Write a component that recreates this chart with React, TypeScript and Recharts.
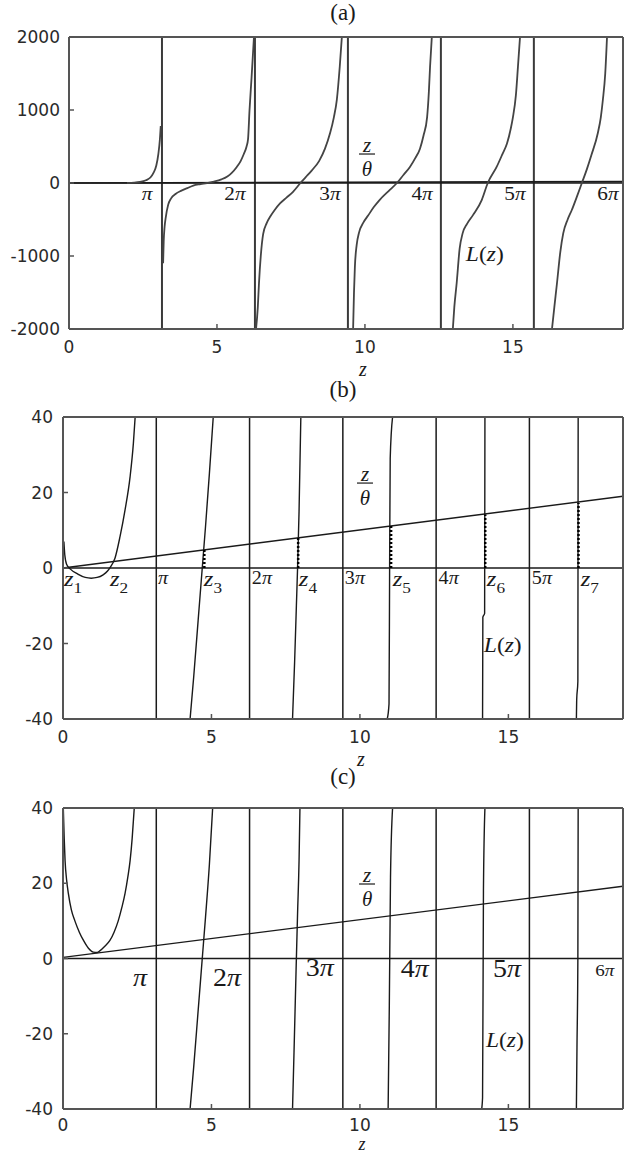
import React from 'react';
import { LineChart, Line, XAxis, YAxis, ReferenceLine, ReferenceDot } from 'recharts';

// ---------------- shared ----------------
const X_TICKS = [0, 5, 10, 15];
const ASYMPTOTES = [3.1416, 6.2832, 9.4248, 12.5664, 15.708];

// ---------------- panel (a) ----------------
const A_X_DOMAIN = [0, 18.72];
const A_Y_DOMAIN = [-2000, 2000];
const A_Y_TICKS = [-2000, -1000, 0, 1000, 2000];
const aRatioLine = [[0, 0], [18.72, 18.72]];
const aCurve1 = [[1.96, 0], [2.2, 4], [2.4, 14], [2.6, 38], [2.75, 75], [2.85, 135], [2.95, 240], [3.02, 400], [3.07, 590], [3.1, 780]];
const aCurve2 = [[3.18, -1100], [3.2, -800], [3.23, -600], [3.27, -470], [3.35, -300], [3.45, -210], [3.6, -150], [3.8, -105], [4.0, -70], [4.2, -35], [4.45, -15], [4.66, 0], [4.9, 20], [5.15, 50], [5.35, 90], [5.5, 140], [5.67, 220], [5.8, 300], [5.9, 390], [6.0, 500], [6.05, 600], [6.1, 1000], [6.17, 1450], [6.25, 2000]];
const aCurve3 = [[6.32, -2000], [6.38, -1700], [6.42, -1370], [6.48, -1000], [6.56, -700], [6.68, -550], [6.8, -460], [6.95, -370], [7.13, -280], [7.35, -200], [7.57, -120], [7.82, 0], [8.0, 80], [8.2, 170], [8.45, 300], [8.65, 470], [8.82, 680], [8.95, 900], [9.05, 1140], [9.15, 1600], [9.22, 2000]];
const aCurve4 = [[9.6, -2000], [9.63, -1500], [9.66, -1150], [9.72, -850], [9.8, -680], [9.95, -540], [10.1, -450], [10.3, -330], [10.5, -230], [10.8, -110], [11.08, 0], [11.3, 110], [11.52, 220], [11.7, 340], [11.86, 470], [11.98, 650], [12.1, 900], [12.16, 1250], [12.2, 1590], [12.26, 2000]];
const aCurve5 = [[12.97, -2000], [13.02, -1700], [13.1, -1370], [13.2, -900], [13.3, -690], [13.45, -560], [13.65, -440], [13.95, -230], [14.15, 0], [14.45, 220], [14.65, 400], [14.8, 540], [14.93, 750], [15.0, 900], [15.1, 1200], [15.17, 1590], [15.24, 2000]];
const aCurve6 = [[16.32, -2000], [16.4, -1700], [16.49, -1370], [16.6, -950], [16.7, -690], [16.85, -500], [16.99, -370], [17.15, -200], [17.33, 0], [17.5, 190], [17.65, 380], [17.87, 685], [17.97, 900], [18.04, 1140], [18.12, 1500], [18.18, 2000]];
const aPiLabels = [
  { x: 2.64, y: -150, lead: '' }, { x: 5.61, y: -150, lead: '2' }, { x: 8.82, y: -140, lead: '3' },
  { x: 11.93, y: -140, lead: '4' }, { x: 15.07, y: -140, lead: '5' }, { x: 18.21, y: -140, lead: '6' },
];
const aFrac = { x: 10.07, y: 397 };
const aLz = { x: 14.05, y: -973 };

// ---------------- panel (b) ----------------
const BC_X_DOMAIN = [0, 18.86];
const BC_Y_DOMAIN = [-40, 40];
const BC_Y_TICKS = [-40, -20, 0, 20, 40];
const bRatioLine = [[0, 0], [18.86, 19.0]];
const bCurve1 = [[0.03, 7], [0.06, 3.5], [0.12, 1], [0.25, -0.3], [0.5, -1.6], [0.75, -2.5], [0.95, -2.7], [1.15, -2.5], [1.35, -1.8], [1.5, -0.8], [1.6, 0.3], [1.75, 2.6], [1.92, 8.3], [2.09, 15.4], [2.26, 24.2], [2.37, 33], [2.43, 40]];
const bCurve2 = [[4.28, -40], [4.4, -29], [4.55, -14], [4.69, 0], [4.8, 11], [4.93, 25], [5.06, 40]];
const bCurve3 = [[7.73, -40], [7.8, -25], [7.86, -10], [7.9, 0], [7.95, 15], [8.01, 40]];
const bCurve4 = [[10.92, -40], [10.98, -36], [11.0, 0], [11.02, 29], [11.1, 40]];
const bCurve5 = [[14.13, -40], [14.14, -13], [14.2, -12], [14.21, 40]];
const bCurve6 = [[17.29, -40], [17.3, -35], [17.34, -30], [17.35, 40]];
const bRootX = [4.76, 7.92, 11.05, 14.22, 17.36];
const bRootTop = [4.9, 8.0, 11.2, 14.2, 17.2];
const bPiLabels = [
  { x: 3.37, y: -2.7, lead: '' }, { x: 6.7, y: -2.7, lead: '2' }, { x: 9.83, y: -2.7, lead: '3' },
  { x: 12.99, y: -2.7, lead: '4' }, { x: 16.13, y: -2.7, lead: '5' },
];
const bRootLabels = [
  { x: 0.34, y: -3.7, sub: '1' }, { x: 1.89, y: -3.7, sub: '2' }, { x: 5.05, y: -3.7, sub: '3' },
  { x: 8.25, y: -3.7, sub: '4' }, { x: 11.41, y: -3.7, sub: '5' }, { x: 14.58, y: -3.7, sub: '6' },
  { x: 17.74, y: -3.7, sub: '7' },
];
const bFrac = { x: 10.17, y: 22.5 };
const bLz = { x: 14.81, y: -20.4 };

// ---------------- panel (c) ----------------
const cRatioLine = [[0, 0.3], [18.86, 19.2]];
const cCurve1 = [[0.01, 40], [0.04, 32], [0.07, 26], [0.12, 21], [0.18, 17.3], [0.28, 13], [0.4, 10], [0.55, 7], [0.69, 4.8], [0.85, 2.8], [1.02, 1.7], [1.15, 1.6], [1.25, 2.1], [1.4, 3.2], [1.58, 4.8], [1.72, 7], [1.86, 10], [1.98, 13.5], [2.09, 17.3], [2.18, 21.5], [2.26, 26], [2.33, 32], [2.4, 40]];
const cCurve2 = [[4.28, -40], [4.4, -29], [4.55, -14], [4.69, 0], [4.8, 11], [4.93, 25], [5.04, 40]];
const cCurve3 = [[7.73, -40], [7.78, -25], [7.85, -3], [7.9, 12], [7.95, 26], [7.98, 40]];
const cCurve4 = [[10.95, -40], [10.99, -12.5], [11.03, 21.6], [11.1, 40]];
const cCurve5 = [[14.1, -40], [14.13, -37], [14.16, 18], [14.21, 40]];
const cCurve6 = [[17.29, -40], [17.31, -23.6], [17.34, 0], [17.35, 40]];
const cPiLabels = [
  { x: 2.59, y: -5.0, lead: '', size: 25 }, { x: 5.52, y: -5.0, lead: '2', size: 25 },
  { x: 8.65, y: -2.4, lead: '3', size: 25 }, { x: 11.85, y: -2.6, lead: '4', size: 25 },
  { x: 14.95, y: -2.6, lead: '5', size: 25 }, { x: 18.25, y: -3.2, lead: '6', size: 17 },
];
const cFrac = { x: 10.24, y: 19.8 };
const cLz = { x: 14.88, y: -21.8 };

// ---------------- styling ----------------
const SERIF = '"Liberation Serif", "Times New Roman", serif';
const SANS = '"DejaVu Sans", sans-serif';
const FRAME = { stroke: '#555', strokeWidth: 2 };
const TICKLINE = { stroke: '#555', strokeWidth: 1.5 };
const TICKFONT = { fontSize: 17, fill: '#2a2a2a', fontFamily: SANS };
const INK = '#1a1a1a';

const toPts = (arr: number[][]) => arr.map(([x, y]) => ({ x, y }));

function axes(xDomain: number[], yDomain: number[], yTicks: number[], yWidth: number, yTickMargin: number, xTickMargin: number) {
  return [
    <XAxis key="xb" xAxisId={0} type="number" dataKey="x" domain={xDomain} ticks={X_TICKS} interval={0}
      allowDataOverflow height={31} tickSize={-5} tickMargin={xTickMargin} axisLine={FRAME} tickLine={TICKLINE} tick={TICKFONT} />,
    <XAxis key="xt" xAxisId="top" orientation="top" type="number" dataKey="x" domain={xDomain} ticks={X_TICKS} interval={0}
      allowDataOverflow height={1} tickSize={-5} axisLine={FRAME} tickLine={TICKLINE} tick={false} />,
    <YAxis key="yl" yAxisId={0} type="number" domain={yDomain} ticks={yTicks} interval={0}
      allowDataOverflow width={yWidth} tickSize={-5} tickMargin={yTickMargin} axisLine={FRAME} tickLine={TICKLINE} tick={TICKFONT} />,
    <YAxis key="yr" yAxisId="right" orientation="right" type="number" domain={yDomain} ticks={yTicks} interval={0}
      allowDataOverflow width={1} tickSize={-5} axisLine={FRAME} tickLine={TICKLINE} tick={false} />,
  ];
}

function curves(list: number[][][], color: string, width: number) {
  return list.map((c, i) => (
    <Line key={'c' + i} data={toPts(c)} dataKey="y" type="monotone" dot={false} activeDot={false}
      stroke={color} strokeWidth={width} isAnimationActive={false} />
  ));
}

// the z/theta line is drawn on the top / right axes (same domains as bottom / left)
function ratio(line: number[][], width: number) {
  return (
    <Line key="ratio" xAxisId="top" yAxisId="right" data={toPts(line)} dataKey="y" type="linear" dot={false} activeDot={false}
      stroke={INK} strokeWidth={width} isAnimationActive={false} />
  );
}

function asymptoteLines(color: string, width: number) {
  return ASYMPTOTES.map((x, i) => (
    <ReferenceLine key={'as' + i} x={x} stroke={color} strokeWidth={width} ifOverflow="visible" />
  ));
}

function piShape(lead: string, size: number) {
  return (p: any) => (
    <g transform={`translate(${p.cx},${p.cy}) scale(1.12,1)`}>
      <text x={0} y={size * 0.33} textAnchor="middle" fontFamily={SERIF} fontSize={size} fill={INK}>
        {lead ? <tspan>{lead}</tspan> : null}
        <tspan fontStyle="italic">π</tspan>
      </text>
    </g>
  );
}

function rootShape(sub: string, size: number) {
  return (p: any) => (
    <g transform={`translate(${p.cx},${p.cy}) scale(1.12,1)`}>
      <text x={0} y={size * 0.2} textAnchor="middle" fontFamily={SERIF} fontSize={size} fill={INK}>
        <tspan fontStyle="italic">z</tspan>
        <tspan fontSize={size * 0.7} dy={size * 0.32}>{sub}</tspan>
      </text>
    </g>
  );
}

function fracShape(size: number) {
  return (p: any) => (
    <g transform={`translate(${p.cx},${p.cy})`}>
      <text x={0} y={-2.5} textAnchor="middle" fontFamily={SERIF} fontSize={size} fontStyle="italic" fill={INK}>z</text>
      <line x1={-8} x2={8} y1={0} y2={0} stroke={INK} strokeWidth={1.2} />
      <text x={0} y={22} textAnchor="middle" fontFamily={SERIF} fontSize={size} fontStyle="italic" fill={INK}>θ</text>
    </g>
  );
}

function lzShape(size: number) {
  return (p: any) => (
    <g transform={`translate(${p.cx},${p.cy}) scale(1.12,1)`}>
      <text x={0} y={size * 0.33} textAnchor="middle" fontFamily={SERIF} fontSize={size} fill={INK}>
        <tspan fontStyle="italic">L</tspan><tspan>(</tspan><tspan fontStyle="italic">z</tspan><tspan>)</tspan>
      </text>
    </g>
  );
}

function dot(key: string, x: number, y: number, shape: any) {
  return <ReferenceDot key={key} x={x} y={y} r={1} shape={shape} ifOverflow="visible" />;
}

const titleStyle: React.CSSProperties = {
  position: 'absolute', transform: 'translate(-50%,-50%)', fontFamily: SERIF, fontSize: 23, color: INK,
  whiteSpace: 'nowrap', lineHeight: '20px',
};
const zStyle: React.CSSProperties = {
  position: 'absolute', transform: 'translate(-50%,-50%)', fontFamily: SERIF, fontSize: 20, fontStyle: 'italic',
  color: INK, lineHeight: '12px', height: 12,
};

export default function App() {
  return (
    <div style={{ position: 'absolute', left: 0, top: 0, width: 624, height: 1153, background: '#fff', overflow: 'hidden' }}>
      {/* ---------- (a) ---------- */}
      <div style={{ position: 'absolute', left: 0, top: 0 }}>
        <LineChart width={624} height={360} margin={{ top: 36, right: 0, bottom: 0, left: 0 }}>
          {axes(A_X_DOMAIN, A_Y_DOMAIN, A_Y_TICKS, 69, 14, 17)}
          {asymptoteLines('#3a3a3a', 2)}
          <ReferenceLine y={0} stroke={INK} strokeWidth={1.6} />
          {ratio(aRatioLine, 1.6)}
          {curves([aCurve1, aCurve2, aCurve3, aCurve4, aCurve5, aCurve6], '#444', 1.8)}
          {aPiLabels.map((l, i) => dot('ap' + i, l.x, l.y, piShape(l.lead, 19)))}
          {dot('af', aFrac.x, aFrac.y, fracShape(21))}
          {dot('al', aLz.x, aLz.y, lzShape(21))}
        </LineChart>
      </div>
      <div style={{ ...titleStyle, left: 343, top: 13 }}>(a)</div>
      <div style={{ ...zStyle, left: 363, top: 369 }}>z</div>

      {/* ---------- (b) ---------- */}
      <div style={{ position: 'absolute', left: 0, top: 380 }}>
        <LineChart width={624} height={370} margin={{ top: 36, right: 0, bottom: 0, left: 0 }}>
          {axes(BC_X_DOMAIN, BC_Y_DOMAIN, BC_Y_TICKS, 63, 15, 17)}
          {asymptoteLines(INK, 1.5)}
          <ReferenceLine y={0} stroke={INK} strokeWidth={1.5} />
          {ratio(bRatioLine, 1.4)}
          {curves([bCurve1, bCurve2, bCurve3, bCurve4, bCurve5, bCurve6], INK, 1.4)}
          {bRootX.map((x, i) => (
            <Line key={'r' + i} data={[{ x, y: 0 }, { x, y: bRootTop[i] }]} dataKey="y" type="linear" dot={false}
              activeDot={false} stroke="#000" strokeWidth={2.5} strokeDasharray="2 2" isAnimationActive={false} />
          ))}
          {bPiLabels.map((l, i) => dot('bp' + i, l.x, l.y, piShape(l.lead, 18)))}
          {bRootLabels.map((l, i) => dot('bz' + i, l.x, l.y, rootShape(l.sub, 22)))}
          {dot('bf', bFrac.x, bFrac.y, fracShape(21))}
          {dot('bl', bLz.x, bLz.y, lzShape(21))}
        </LineChart>
      </div>
      <div style={{ ...titleStyle, left: 343, top: 390 }}>(b)</div>
      <div style={{ ...zStyle, left: 361, top: 759 }}>z</div>

      {/* ---------- (c) ---------- */}
      <div style={{ position: 'absolute', left: 0, top: 771 }}>
        <LineChart width={624} height={369} margin={{ top: 36, right: 0, bottom: 0, left: 0 }}>
          {axes(BC_X_DOMAIN, BC_Y_DOMAIN, BC_Y_TICKS, 63, 15, 14.5)}
          {asymptoteLines(INK, 1.5)}
          <ReferenceLine y={0} stroke={INK} strokeWidth={1.5} />
          {ratio(cRatioLine, 1.4)}
          {curves([cCurve1, cCurve2, cCurve3, cCurve4, cCurve5, cCurve6], INK, 1.4)}
          {cPiLabels.map((l, i) => dot('cp' + i, l.x, l.y, piShape(l.lead, l.size)))}
          {dot('cf', cFrac.x, cFrac.y, fracShape(21))}
          {dot('cl', cLz.x, cLz.y, lzShape(21))}
        </LineChart>
      </div>
      <div style={{ ...titleStyle, left: 343, top: 777 }}>(c)</div>
      <div style={{ ...zStyle, left: 362, top: 1144, fontSize: 18 }}>z</div>
    </div>
  );
}
